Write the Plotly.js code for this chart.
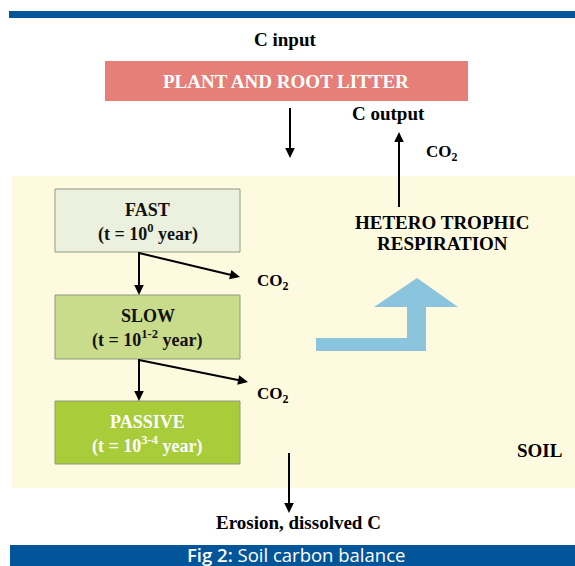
<!DOCTYPE html>
<html>
<head>
<meta charset="utf-8">
<script src="https://cdn.plot.ly/plotly-3.0.1.min.js"></script>
<style>html,body{margin:0;padding:0;background:#fff;}#chart{width:575px;height:566px;}</style>
</head>
<body>
<div id="chart"></div>
<script>
// Diagram content
const inputLabel = 'C input';
const litterLabel = 'PLANT AND ROOT LITTER';
const outputLabel = 'C output';
const co2Label = 'CO<sub>2</sub>';
const respirationLines = ['HETERO TROPHIC', 'RESPIRATION'];
const poolNames = ['FAST', 'SLOW', 'PASSIVE'];
const poolTimes = ['(t = 10<sup>0</sup> year)', '(t = 10<sup>1-2</sup> year)', '(t = 10<sup>3-4</sup> year)'];
const soilLabel = 'SOIL';
const erosionLabel = 'Erosion, dissolved C';
const captionBold = 'Fig 2:';
const captionText = 'Soil carbon balance';

// Styling / geometry
const serif = 'Liberation Serif, Times New Roman, serif';
const poolFill = ['#EBF1DE', '#C9DC8C', '#A8CC3A'];
const poolTextColor = ['#111', '#111', '#ffffff'];
const poolY = [[189, 252], [295, 359], [401, 464]];
const poolX = [55, 240];

const shapes = [];
const annotations = [];

function txt(x, y, text, size, color, extra) {
  annotations.push(Object.assign({
    x: x, y: y, xref: 'x', yref: 'y', text: text, showarrow: false,
    font: {family: serif, size: size, color: color || '#000', weight: 700},
    xanchor: 'center', yanchor: 'middle'
  }, extra || {}));
}
function arrow(x0, y0, x1, y1) {
  const dx = x1 - x0, dy = y1 - y0, len = Math.sqrt(dx * dx + dy * dy);
  const ux = dx / len, uy = dy / len, hl = 10, hw = 4.8;
  const bx = x1 - ux * hl, by = y1 - uy * hl;
  shapes.push({type: 'line', xref: 'x', yref: 'y', x0: x0, y0: y0, x1: bx + ux * 1, y1: by + uy * 1,
    line: {color: '#000', width: 2}});
  const p1x = bx - uy * hw, p1y = by + ux * hw, p2x = bx + uy * hw, p2y = by - ux * hw;
  shapes.push({type: 'path', xref: 'x', yref: 'y',
    path: 'M' + x1 + ',' + y1 + ' L' + p1x + ',' + p1y + ' L' + p2x + ',' + p2y + ' Z',
    fillcolor: '#000', line: {width: 0}});
}

// top blue band
shapes.push({type: 'rect', xref: 'x', yref: 'y', x0: 9, x1: 575, y0: 11, y1: 18, fillcolor: '#03559A', line: {width: 0}, layer: 'below'});
// soil background
shapes.push({type: 'rect', xref: 'x', yref: 'y', x0: 12, x1: 575, y0: 176, y1: 488, fillcolor: '#FEFADF', line: {width: 0}, layer: 'below'});
// caption band
shapes.push({type: 'rect', xref: 'x', yref: 'y', x0: 10, x1: 575, y0: 545, y1: 566, fillcolor: '#03559A', line: {width: 0}, layer: 'below'});
// litter box
shapes.push({type: 'rect', xref: 'x', yref: 'y', x0: 105, x1: 468, y0: 61, y1: 101, fillcolor: '#E57F77', line: {width: 0}, layer: 'below'});

// pool boxes
poolNames.forEach((n, i) => {
  shapes.push({type: 'rect', xref: 'x', yref: 'y', x0: poolX[0], x1: poolX[1], y0: poolY[i][0], y1: poolY[i][1],
    fillcolor: poolFill[i], line: {width: 1, color: '#8E9A80'}, layer: 'below'});
  const cy = (poolY[i][0] + poolY[i][1]) / 2;
  txt((poolX[0] + poolX[1]) / 2, cy - 11, n, 18, poolTextColor[i]);
  txt((poolX[0] + poolX[1]) / 2, cy + 12, poolTimes[i], 18, poolTextColor[i]);
});

// bent blue arrow
shapes.push({type: 'path', xref: 'x', yref: 'y',
  path: 'M316,338 L407,338 L407,307 L374,307 L417,278 L458,307 L426,307 L426,351 L316,351 Z',
  fillcolor: '#8BC5DD', line: {width: 0}});

// texts
txt(285, 39, inputLabel, 19);
txt(286, 81, litterLabel, 19, '#ffffff');
txt(388, 113, outputLabel, 19);
txt(442, 153, co2Label, 17);
txt(442, 222, respirationLines[0], 19);
txt(442, 243, respirationLines[1], 19);
txt(273, 282, co2Label, 17);
txt(273, 395, co2Label, 17);
txt(539, 450, soilLabel, 19);
txt(298, 522, erosionLabel, 19);
txt(296, 554, '<span style="font-weight:600">' + captionBold + '</span> ' + captionText, 18, '#ffffff',
  {font: {family: 'Open Sans, Noto Sans, sans-serif', size: 18.5, color: '#ffffff', weight: 400}, borderpad: 0});

// arrows
arrow(290, 108, 290, 158);
arrow(399, 207, 399, 132);
arrow(139, 252, 139, 295);
arrow(139, 253, 240, 277);
arrow(139, 359, 139, 401);
arrow(139, 360, 248, 382);
arrow(289, 453, 289, 513);

const layout = {
  width: 575, height: 566,
  margin: {l: 0, r: 0, t: 0, b: 0},
  paper_bgcolor: '#ffffff', plot_bgcolor: '#ffffff',
  xaxis: {range: [0, 575], visible: false, fixedrange: true},
  yaxis: {range: [566, 0], visible: false, fixedrange: true},
  showlegend: false,
  shapes: shapes,
  annotations: annotations
};

Plotly.newPlot('chart', [], layout, {staticPlot: true, displayModeBar: false});
</script>
</body>
</html>
